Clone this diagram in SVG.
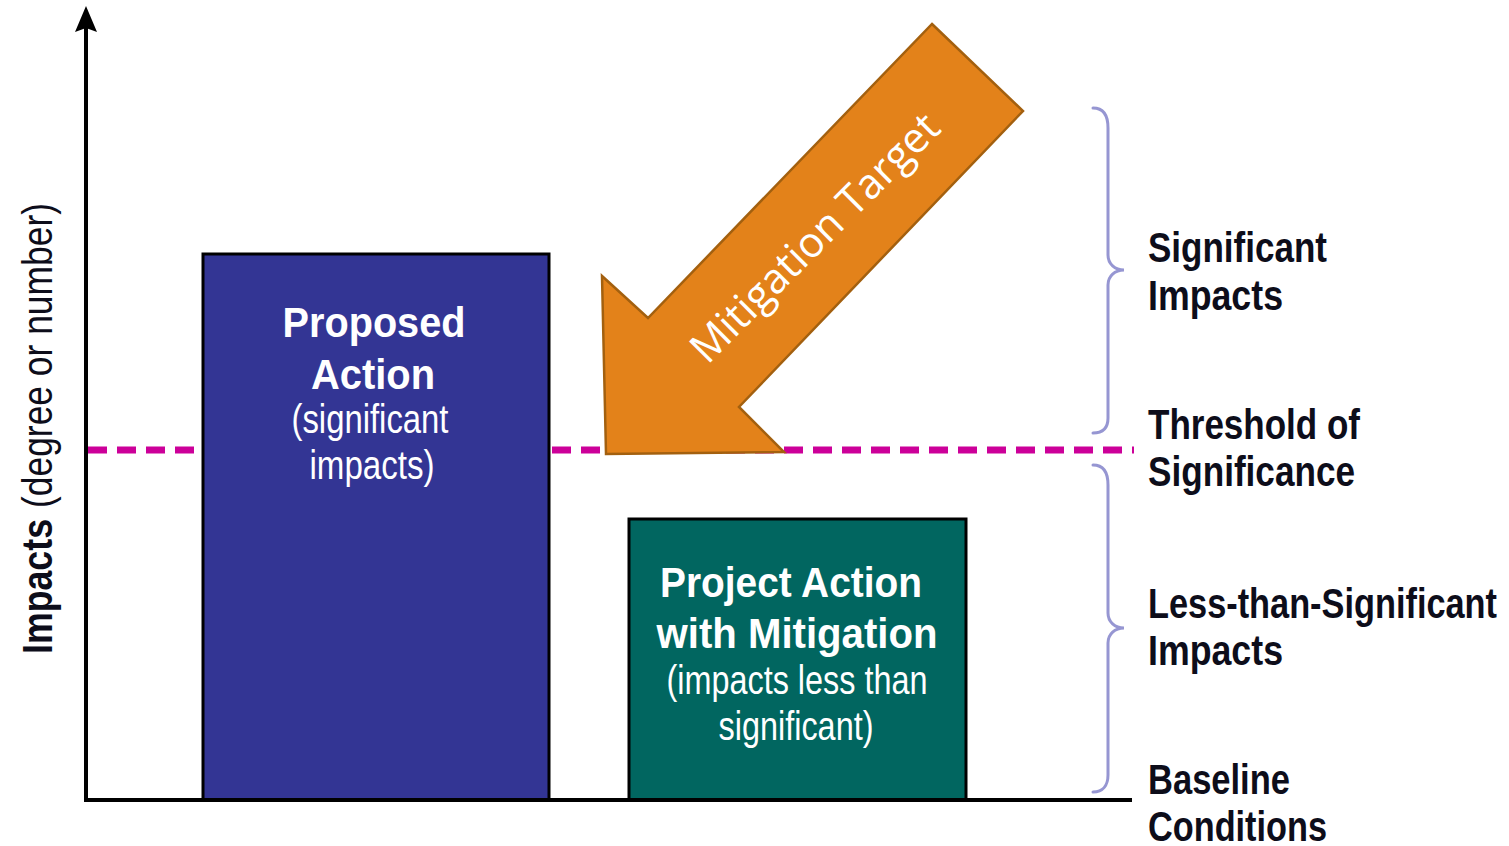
<svg xmlns="http://www.w3.org/2000/svg" width="1509" height="846" viewBox="0 0 1509 846">
<style>
.lbl{font-family:"Liberation Sans",Arial,sans-serif;font-weight:bold;font-size:42px;fill:#0d0d1a}
.bt{font-family:"Liberation Sans",Arial,sans-serif;fill:#ffffff;text-anchor:middle}
.b{font-weight:bold;font-size:42px}
.r{font-weight:normal;font-size:40px}
.brace{fill:none;stroke:#9696d2;stroke-width:3;stroke-linecap:round}
.axis{stroke:#000;stroke-width:4;fill:none}
.yl{font-family:"Liberation Sans",Arial,sans-serif;font-size:42px;fill:#0d0d1a}
</style>
<rect width="1509" height="846" fill="#ffffff"/>
<g id="threshold-line">
<line x1="88" y1="450" x2="1134" y2="450" stroke="#cc0099" stroke-width="7" stroke-dasharray="19 10"/>
</g>
<g id="proposed-action">
<rect x="203" y="254" width="346" height="546" fill="#333594" stroke="#000" stroke-width="3"/>
<text class="bt b" x="374" y="337" textLength="183" lengthAdjust="spacingAndGlyphs">Proposed</text>
<text class="bt b" x="373" y="389" textLength="124" lengthAdjust="spacingAndGlyphs">Action</text>
<text class="bt r" x="370" y="433" textLength="157" lengthAdjust="spacingAndGlyphs">(significant</text>
<text class="bt r" x="372" y="479" textLength="125" lengthAdjust="spacingAndGlyphs">impacts)</text>
</g>
<g id="project-mitigation">
<rect x="629" y="519" width="337" height="281" fill="#016660" stroke="#000" stroke-width="3"/>
<text class="bt b" x="791" y="597" textLength="262" lengthAdjust="spacingAndGlyphs">Project Action</text>
<text class="bt b" x="797" y="648" textLength="281" lengthAdjust="spacingAndGlyphs">with Mitigation</text>
<text class="bt r" x="797" y="694" textLength="261" lengthAdjust="spacingAndGlyphs">(impacts less than</text>
<text class="bt r" x="796" y="740" textLength="155" lengthAdjust="spacingAndGlyphs">significant)</text>
</g>
<g id="axes">
<line class="axis" x1="86" y1="802" x2="86" y2="22"/>
<path d="M86,6 L97,32 L86,28 L75,32 Z" fill="#000"/>
<line class="axis" x1="84" y1="800" x2="1132" y2="800"/>
<text class="yl" transform="translate(52,654) rotate(-90)" x="0" y="0" font-weight="bold" textLength="135" lengthAdjust="spacingAndGlyphs">Impacts</text>
<text class="yl" transform="translate(52,508) rotate(-90)" x="0" y="0" textLength="305" lengthAdjust="spacingAndGlyphs">(degree or number)</text>
</g>
<g id="mitigation-target">
<polygon points="932,24 1023,111 739,407 784,452 606,454 602,276 648,318" fill="#e3821a" stroke="#a3600f" stroke-width="2.5" stroke-linejoin="miter"/>
<text transform="translate(825,248) rotate(-45)" text-anchor="middle" font-family="'Open Sans','Noto Sans',sans-serif" font-size="42" fill="#ffffff">Mitigation Target</text>
</g>
<g id="braces">
<path class="brace" d="M1093,108 C1103,108 1108,115 1108,128 L1108,255 C1108,264 1115,270 1124,270 C1115,270 1108,276 1108,285 L1108,418 C1108,428 1103,433 1093,433"/>
<path class="brace" d="M1093,465 C1103,465 1108,472 1108,485 L1108,613 C1108,622 1115,628 1124,628 C1115,628 1108,634 1108,643 L1108,775 C1108,785 1103,792 1093,792"/>
</g>
<g id="labels">
<text class="lbl" x="1148" y="262" textLength="179" lengthAdjust="spacingAndGlyphs">Significant</text>
<text class="lbl" x="1148" y="310" textLength="135" lengthAdjust="spacingAndGlyphs">Impacts</text>
<text class="lbl" x="1148" y="439" textLength="212" lengthAdjust="spacingAndGlyphs">Threshold of</text>
<text class="lbl" x="1148" y="486" textLength="207" lengthAdjust="spacingAndGlyphs">Significance</text>
<text class="lbl" x="1148" y="618" textLength="349" lengthAdjust="spacingAndGlyphs">Less-than-Significant</text>
<text class="lbl" x="1148" y="665" textLength="135" lengthAdjust="spacingAndGlyphs">Impacts</text>
<text class="lbl" x="1148" y="794" textLength="142" lengthAdjust="spacingAndGlyphs">Baseline</text>
<text class="lbl" x="1148" y="841" textLength="179" lengthAdjust="spacingAndGlyphs">Conditions</text>
</g>
</svg>
